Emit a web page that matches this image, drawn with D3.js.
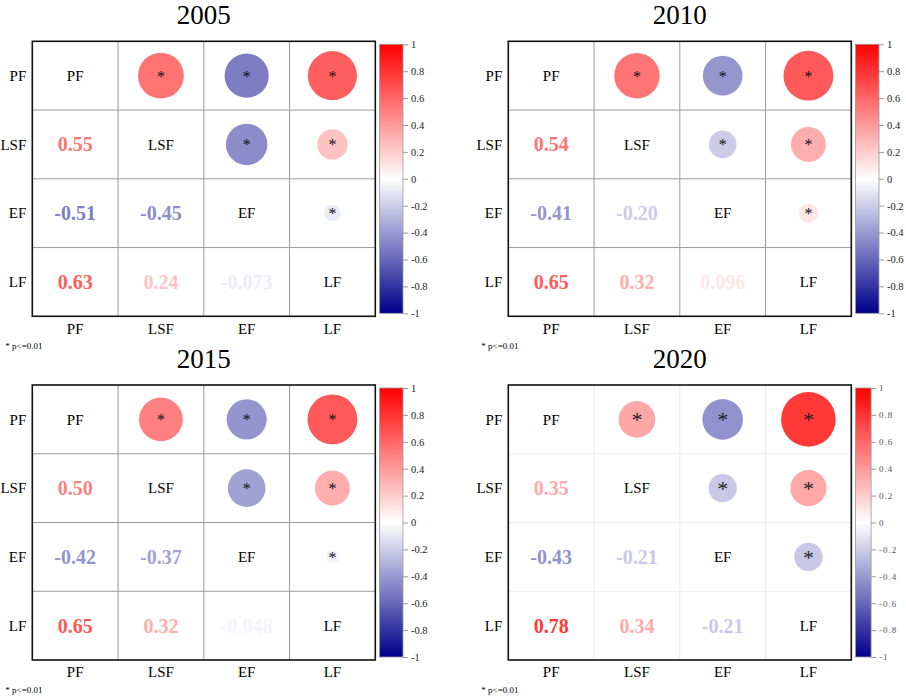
<!DOCTYPE html>
<html>
<head>
<meta charset="utf-8">
<script src="https://cdn.jsdelivr.net/npm/d3@7"></script>
<style>
  body { margin: 0; background: #fff; }
  svg { display: block; }
</style>
</head>
<body>
<svg id="chart" width="906" height="700"></svg>
<script>
"use strict";

// variables of the matrix, in row / column order
var vars = ["PF", "LSF", "EF", "LF"];
var years = ["2005", "2010", "2015", "2020"];

// lower triangle pairs (row, column); the upper triangle mirrors them as circles
var pairs = [["LSF", "PF"], ["EF", "PF"], ["EF", "LSF"], ["LF", "PF"], ["LF", "LSF"], ["LF", "EF"]];

var r2005 = [0.55, -0.51, -0.45, 0.63, 0.24, -0.073];
var r2010 = [0.54, -0.41, -0.20, 0.65, 0.32, 0.096];
var r2015 = [0.50, -0.42, -0.37, 0.65, 0.32, -0.048];
var r2020 = [0.35, -0.43, -0.21, 0.78, 0.34, -0.21];

// p<=0.01 flags for the same pairs
var sig2005 = [true, true, true, true, true, true];
var sig2010 = [true, true, true, true, true, true];
var sig2015 = [true, true, true, true, true, true];
var sig2020 = [true, true, true, true, true, true];

var colorTicks = [-1, -0.8, -0.6, -0.4, -0.2, 0, 0.2, 0.4, 0.6, 0.8, 1];

var values = [r2005, r2010, r2015, r2020];
var sigs = [sig2005, sig2010, sig2015, sig2020];

var serif = "\"Liberation Serif\", \"Times New Roman\", serif";
var svg = d3.select("#chart").attr("font-family", serif);

var color = d3.scaleLinear()
  .domain([-1, 0, 1])
  .range(["#00008B", "#ffffff", "#ff0000"]);

var fmt = d3.formatLocale({ decimal: ".", thousands: ",", grouping: [3], currency: ["", ""], minus: "-" });
var valueFormat = fmt.format(".2r");
var tickFormat = function(d) { return d === 0 ? "0" : fmt.format("")(+d.toFixed(1)); };

var frameW = 343, frameH = 275;

var drawPanel = function(k) {
  var col = k % 2, row = Math.floor(k / 2);
  var left = 32.3 + col * 476;
  var top = 41.3 + row * 343.7;
  var late = k === 3;

  var g = svg.append("g")
    .attr("font-family", serif)
    .attr("transform", "translate(" + left + "," + top + ")");

  var x = d3.scaleBand().domain(vars).range([0, frameW]);
  var y = d3.scaleBand().domain(vars).range([0, frameH]);
  var maxD = 0.9 * Math.min(x.bandwidth(), y.bandwidth());

  // title
  g.append("text")
    .attr("x", frameW / 2)
    .attr("y", -17.5)
    .attr("text-anchor", "middle")
    .attr("font-size", 27)
    .text(years[k]);

  // grid lines
  var gridColor = late ? "#ececec" : "#9a9a9a";
  g.selectAll("line.v").data(vars.slice(1)).enter().append("line")
    .attr("x1", function(d) { return x(d); })
    .attr("x2", function(d) { return x(d); })
    .attr("y1", 0).attr("y2", frameH)
    .attr("stroke", gridColor).attr("stroke-width", 1);
  g.selectAll("line.h").data(vars.slice(1)).enter().append("line")
    .attr("y1", function(d) { return y(d); })
    .attr("y2", function(d) { return y(d); })
    .attr("x1", 0).attr("x2", frameW)
    .attr("stroke", gridColor).attr("stroke-width", 1);

  var cells = pairs.map(function(p, i) {
    return { row: p[0], col: p[1], r: values[k][i], sig: sigs[k][i] };
  });

  // lower triangle: numbers
  g.selectAll("text.num").data(cells).enter().append("text")
    .attr("x", function(d) { return x(d.col) + x.bandwidth() / 2; })
    .attr("y", function(d) { return y(d.row) + y.bandwidth() / 2; })
    .attr("dy", "0.35em")
    .attr("text-anchor", "middle")
    .attr("font-size", 20)
    .attr("font-weight", "bold")
    .attr("fill", function(d) { return color(d.r); })
    .text(function(d) { return valueFormat(d.r); });

  // upper triangle: circles, area ~ |r|
  g.selectAll("circle").data(cells).enter().append("circle")
    .attr("cx", function(d) { return x(d.row) + x.bandwidth() / 2; })
    .attr("cy", function(d) { return y(d.col) + y.bandwidth() / 2; })
    .attr("r", function(d) { return maxD / 2 * Math.sqrt(Math.abs(d.r)); })
    .attr("fill", function(d) { return color(d.r); });

  g.selectAll("text.star").data(cells.filter(function(d) { return d.sig; })).enter().append("text")
    .attr("x", function(d) { return x(d.row) + x.bandwidth() / 2; })
    .attr("y", function(d) { return y(d.col) + y.bandwidth() / 2 + (late ? 8 : 6); })
    .attr("text-anchor", "middle")
    .attr("font-size", late ? 22 : 16)
    .attr("fill", late ? "#222" : "#111")
    .text("*");

  // diagonal names
  g.selectAll("text.diag").data(vars).enter().append("text")
    .attr("x", function(d) { return x(d) + x.bandwidth() / 2; })
    .attr("y", function(d) { return y(d) + y.bandwidth() / 2; })
    .attr("dy", "0.35em")
    .attr("text-anchor", "middle")
    .attr("font-size", 15)
    .text(function(d) { return d; });

  // row labels
  g.selectAll("text.rowlab").data(vars).enter().append("text")
    .attr("x", -6)
    .attr("y", function(d) { return y(d) + y.bandwidth() / 2; })
    .attr("dy", "0.35em")
    .attr("text-anchor", "end")
    .attr("font-size", 15)
    .text(function(d) { return d; });

  // column labels
  g.selectAll("text.collab").data(vars).enter().append("text")
    .attr("x", function(d) { return x(d) + x.bandwidth() / 2; })
    .attr("y", frameH + 12)
    .attr("dy", "0.35em")
    .attr("text-anchor", "middle")
    .attr("font-size", 15)
    .text(function(d) { return d; });

  // frame
  g.append("rect")
    .attr("width", frameW).attr("height", frameH)
    .attr("fill", "none")
    .attr("stroke", "#111")
    .attr("stroke-width", 1.6);

  g.append("text")
    .attr("x", -27)
    .attr("y", frameH + 33)
    .attr("font-size", 9)
    .text("* p<=0.01");

  // colour bar
  var cbX = frameW + 4.2, cbW = late ? 15.6 : 23.5;
  var cb = d3.scaleLinear().domain([-1, 1]).range([frameH - 3, 3]);
  var gradId = "grad" + k;
  var grad = svg.append("defs").append("linearGradient")
    .attr("id", gradId)
    .attr("x1", 0).attr("y1", 1).attr("x2", 0).attr("y2", 0);
  grad.selectAll("stop").data(colorTicks).enter().append("stop")
    .attr("offset", function(d) { return (d + 1) / 2; })
    .attr("stop-color", function(d) { return color(d); });

  g.append("rect")
    .attr("x", cbX).attr("y", cb(1))
    .attr("width", cbW).attr("height", cb(-1) - cb(1))
    .attr("fill", "url(#" + gradId + ")")
    .attr("stroke", "#999")
    .attr("stroke-width", 0.8);

  var axis = d3.axisRight(cb)
    .tickValues(colorTicks)
    .tickSize(5)
    .tickPadding(3)
    .tickFormat(tickFormat);

  var ax = g.append("g")
    .attr("transform", "translate(" + (cbX + cbW) + ",0)")
    .call(axis);
  ax.attr("font-family", serif);
  ax.select(".domain").remove();
  ax.selectAll(".tick line").attr("stroke", "#999");
  ax.selectAll(".tick text")
    .attr("font-size", late ? 9 : 10.5)
    .attr("letter-spacing", late ? 1 : 0)
    .attr("fill", late ? "#555" : "#222");
};

years.forEach(function(d, k) { drawPanel(k); });
</script>
</body>
</html>
